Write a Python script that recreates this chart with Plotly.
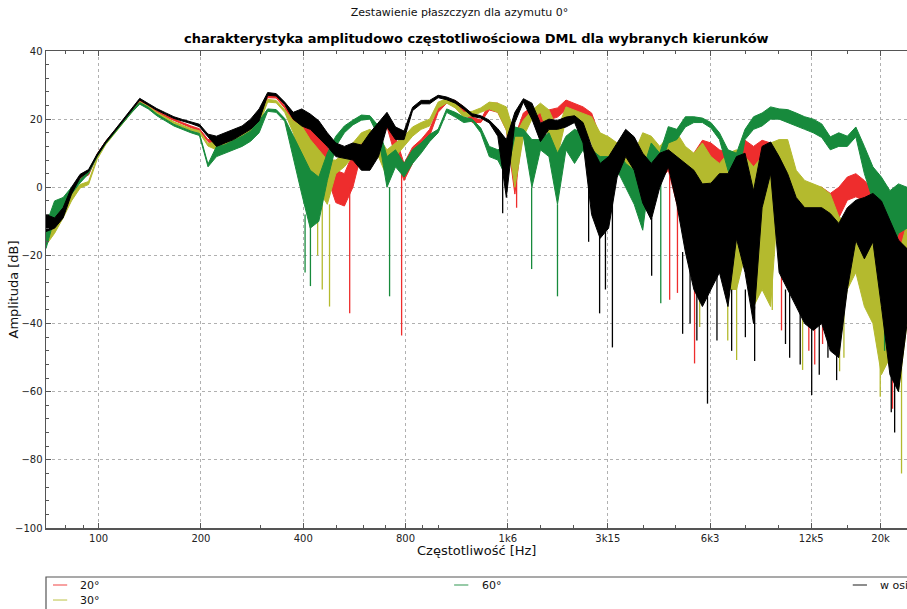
import math
import plotly.graph_objects as go

# ---------------- data ----------------
freq_hz = [70, 74.2, 78.6, 83.2, 88.2, 93.4, 99.0, 104.9, 111.1, 117.7, 124.7, 132.1,
           140, 148.3, 157.1, 166.5, 176.4, 186.9, 198.0, 209.8, 222.2, 235.5, 249.5, 264.3,
           280, 296.7, 314.3, 333.0, 352.8, 373.7, 396.0, 419.5, 444.5, 470.9, 498.9, 528.6,
           560, 593.3, 628.6, 666.0, 705.5, 747.5, 792.0, 839.1, 888.9, 941.8, 997.8, 1057.1,
           1120, 1186.6, 1257.2, 1331.9, 1411.1, 1495.0, 1583.9, 1678.1, 1777.9, 1883.6, 1995.6, 2114.3,
           2240, 2373.2, 2514.3, 2663.8, 2822.2, 2990.0, 3167.8, 3356.1, 3555.7, 3767.1, 3991.1, 4228.5,
           4480, 4746.4, 5028.6, 5327.6, 5644.4, 5980.0, 6335.6, 6712.3, 7111.4, 7534.2, 7982.2, 8456.9,
           8960, 9492.8, 10057, 10655, 11289, 11960, 12671, 13425, 14223, 15068, 15964, 16914,
           17920, 18986, 20114, 21310, 22577, 23920]

# "w osi" (on axis) - upper / lower envelope of the measured curve [dB]
axis_upper = [-8, -9, -6, 0, 3.8, 5.2, 9.8, 13.5, 16.6, 19.7, 22.9, 26.1,
              24.6, 23.1, 21.9, 20.7, 19.9, 19.2, 18.5, 15.6, 15, 16, 17, 18,
              20, 23, 27.8, 27.5, 25, 22, 23, 21.5, 19.5, 16, 13, 12,
              13, 12.4, 16, 19, 22, 17.7, 16.5, 23.5, 25.5, 25.5, 27, 26.5,
              25.5, 23.7, 21.6, 21, 19.7, 17.2, 14, 22, 26, 24.7, 18.8, 20,
              19.6, 20.6, 21, 19, 12, 7, 9, 13, 17, 14.8, 10, 7,
              10, 11, 9, 7, 5, 1, 1.2, 4, 4, 9, 10, -1,
              12, 13.3, 9, 4, -3, -6, -6, -6, -7.7, -10.6, -6, -3.8,
              -3, -1.8, -4, -10, -15.5, -18]
axis_lower = [-13, -12, -9, -2, 2.8, 4.6, 9.2, 13, 16.1, 19.2, 22.4, 25.6,
              24.1, 22.6, 21.4, 20.2, 19.4, 18.7, 17.8, 14.8, 12, 13, 14, 15.5,
              17, 19.5, 27, 26.8, 24.3, 20, 18, 17, 14.5, 12, 9, 8.5,
              8, 5, 5, 9, 17.7, 14, 14, 22.5, 24.5, 24.5, 26.3, 25.7,
              24.7, 22.9, 20.8, 20.3, 18.9, 15, -3, 19, 25, 20, 13.4, 17,
              17, 17.7, 19, 13, -8, -15, -12, 3, 9, 5, -4.6, -9.6,
              0, 6, -5, -19, -30, -35, -30, -25, -35, -15, -25, -40,
              -6, 4, -25, -30, -35, -40, -42, -40, -48, -50, -30, -15.6,
              -21, -16, -35, -55, -60, -40]

# 20 deg
deg20_upper = [-9, -9.5, -6, -0.5, 3.3, 4.3, 9.8, 13.5, 16.5, 19.6, 22.7, 25.6,
               24.1, 22.4, 21.2, 20, 19, 18, 17.2, 14, 14.2, 15.5, 16.5, 17.5,
               19.5, 22.5, 27, 26.8, 24, 20.5, 20, 19, 15.5, 12, 5, 4,
               10, 13.8, 14.8, 17.7, 20.6, 14.8, 7, 11.8, 14, 17, 23.3, 25.7,
               25.5, 23.6, 20.6, 19.7, 24.7, 24.7, 20.6, 14.8, 21.8, 23.6, 21.8, 22.7,
               23.3, 25.6, 24.7, 23.6, 21.8, 14.8, 11, 12, 12, 11, 10, 10,
               10, 12, 9, 9, 10, 13.8, 13, 11, 10, 10, 13.8, 12,
               13.8, 13, 10, 6, 1.2, 0, 0, 0, -1.8, 0, 3, 4,
               2, -0.8, -5, -8, -12.6, -10.6]
deg20_lower = [-13, -12, -8.5, -2, 2.5, 3.6, 9.2, 13, 16, 19.1, 22.2, 25.1,
               23.6, 21.9, 20.7, 19.5, 18.5, 17.5, 16.6, 13.4, 11.5, 12.5, 13.5, 15,
               16.5, 19, 26.3, 26.2, 23.3, 19, 15, 12, 7, 3, -4.5, -5.5,
               0, 10, 12, 14, 17.7, 9, 2, 7, 11.8, 15, 22, 24.7,
               24.5, 22, 19, 19, 22.7, 22, 16.8, -2, 17.7, 20.6, 19, 19.7,
               20.6, 22.7, 21.8, 20.6, 16.8, 7, 5, 9, 8.5, 5, 5, 6,
               2, 5, -5, -14.6, -10, 6, 4, 4, 3, -0.8, 4, 0,
               9, 6, 3, -1, -5.7, -9, -9, -10, -12.6, -9, -3.8, -2.8,
               -4, -8.7, -15, -30, -20, -15.5]

# 30 deg
deg30_upper = [-13, -11.5, -6.5, -2, 0.8, 1.7, 8.8, 13, 16.2, 19.3, 22.3, 25.1,
               23.8, 22, 20.5, 19.2, 18.2, 17.2, 16.6, 12.8, 13.5, 15, 16, 17,
               18.5, 21, 25.8, 25.5, 22.8, 19.5, 18, 14, 11, 8, 8, 10,
               13, 16, 17, 14.8, 11, 13, 15, 17.7, 19, 20, 25, 26,
               24.7, 22, 22.3, 23.3, 25, 24.7, 23.6, 15, 19.7, 22.6, 24.7, 22.7,
               17, 23.6, 22.6, 21.7, 20.7, 16, 14.8, 13, 11, 10, 16, 15,
               12, 15, 16, 12, 10, 13, 9, 7, 10, 11, 9, 6,
               9, 13, 14, 14, 5, 2, 1, 0, -2, -8.6, -10.6, -8.6,
               -10.6, -12.5, -15.5, -20, -20, -10.6]
deg30_lower = [-17, -13.5, -9, -4, -0.2, 0.8, 8.2, 12.5, 15.7, 18.8, 21.8, 24.6,
               23.3, 21.5, 20, 18.7, 17.7, 16.7, 16, 12.1, 11, 12, 13, 14.5,
               16, 18.5, 25, 24.8, 22, 16, 8, 3, -1, -5, 4, 6,
               9, 13, 14, 9, 3, 9, 12, 15, 17, 18, 23.3, 24.7,
               23.3, 20.6, 21, 22, 23, 22, 16.8, 0, 14.8, 20, 22, 14.8,
               9, 20, 19, 17.7, 13, 3, 5, 9, 7, 2, 10, 5,
               2, 9, 7, -1.8, -14, -20, -10.6, -15, -30, -30, -20, -35,
               -30, -35, 0, -0.8, -20, -25, -30, -30, -35, -45, -30, -25,
               -35, -40, -55, -50, -60, -40]

# 60 deg
deg60_upper = [-11, -4, -3, 0, 2.3, 4.8, 9.6, 13.3, 16.3, 19.3, 22.3, 24.9,
               23.5, 21.5, 20, 18.5, 17.5, 16.5, 15.8, 6.8, 12, 12.5, 13.8, 15,
               16.5, 19.5, 23, 22.8, 20.2, 15, 10, 5, 3, 10, 15, 18,
               19.7, 21.2, 21, 18, 9, 11, 7, 11, 13, 15.5, 17, 23,
               22, 20.6, 20, 17.4, 12, 11, 12, 17.7, 17, 14, 14, 16,
               10, 15, 17, 16, 11, 9, 9, 11, 7, 5, 5, 13,
               10, 17.8, 17, 20.7, 20.7, 20.3, 19, 16, 11, 10, 17, 20.7,
               21.8, 23.6, 23, 22.8, 21.8, 20.7, 20, 18.6, 14.8, 16, 15, 17.7,
               12, 6, 3, -1, 1, 0]
deg60_lower = [-18, -9, -6, -2, 1.3, 4, 9, 12.8, 15.8, 18.8, 21.8, 24.4,
               23, 21, 19.5, 18, 17, 16, 15.2, 6, 9, 10, 11, 12,
               13.5, 16, 22.3, 22, 19.4, 9, -2, -12, -10, 2, 12, 16,
               18.3, 19.7, 20, 15, 0, 6, 3, 7, 10, 13.4, 16, 22,
               20.6, 19, 19.4, 16, 9, 8, 3, 15, 15, 0, 11, 9,
               -5, 11, 7, 11, 5, 1, 3, 5, 0, -5, -12.6, 7,
               5, 13, 14, 17.7, 19, 19, 17.4, 14, 5, 0, 14, 17,
               18, 20, 20, 19, 18, 17, 16, 14.6, 11, 12, 12, 14.8,
               4, -3.8, -10.6, -20.6, -13.5, -12]

# narrow deep notches: frequency, top, bottom [dB]
deg20_notch_hz = [548, 779, 1698, 4790, 5050, 5670, 10220, 12300, 12800, 13500, 21690]
deg20_notch_top = [0, 5, 5, 5, 0, -10, -5, -8, -8, -10, -20]
deg20_notch_bot = [-37, -43.5, -6, -33, -31, -51.7, -42, -48, -52, -46, -65]

deg30_notch_hz = [441, 455, 478, 5870, 7100, 7540, 9600, 11790, 15150, 15600, 19950, 23050]
deg30_notch_top = [-1, -3, -5, -10, -20, -20, -20, -20, -30, -30, -35, -40]
deg30_notch_bot = [-20, -30, -35, -41, -45, -50.7, -36, -53.6, -54, -50, -61.5, -84]

deg60_notch_hz = [405, 420, 718, 1880, 2240, 4510, 20550, 21500]
deg60_notch_top = [-8, -10, 0, 0, -5, 5, -20, -20]
deg60_notch_bot = [-25, -29, -32, -24, -32, -34, -48, -40]

axis_notch_hz = [1545, 2766, 2980, 3100, 3250, 4240, 5230, 5500, 5760, 6190, 6600, 7290, 8000, 8520,
                 10500, 10800, 11600, 12540, 13200, 14000, 14850, 21500, 22000]
axis_notch_top = [10, 3, -9, -5, -3, -9, -19, -20, -25, -30, -25, -30, -30, -35,
                  -30, -30, -35, -40, -40, -40, -45, -50, -50]
axis_notch_bot = [-7.6, -16, -37, -30, -47, -26, -43, -40, -45, -63.5, -45, -48, -44, -51,
                  -46, -50, -52, -61, -55, -50, -56.6, -66, -72]

series_names = ["20°", "30°", "60°", "w osi"]
x_tick_vals = [100, 200, 400, 800, 1600, 3150, 6300, 12500, 20000]
x_tick_text = ["100", "200", "400", "800", "1k6", "3k15", "6k3", "12k5", "20k"]
x_minor_vals = [80, 90, 300, 500, 600, 700, 900, 1000, 2000, 2500, 4000, 5000, 8000, 10000, 16000]

# ---------------- styling ----------------
colors = ["#ee2d2d", "#b4ba2e", "#178a3c", "#000000"]
legend_colors = ["rgba(238,45,45,0.6)", "rgba(180,186,46,0.6)", "rgba(23,138,60,0.6)", "rgba(0,0,0,0.6)"]
FONT = "DejaVu Sans"

bands = [
    (deg20_upper, deg20_lower, deg20_notch_hz, deg20_notch_top, deg20_notch_bot),
    (deg30_upper, deg30_lower, deg30_notch_hz, deg30_notch_top, deg30_notch_bot),
    (deg60_upper, deg60_lower, deg60_notch_hz, deg60_notch_top, deg60_notch_bot),
    (axis_upper, axis_lower, axis_notch_hz, axis_notch_top, axis_notch_bot),
]

fig = go.Figure()
for name, col, (up, lo, nh, nt, nb) in zip(series_names, colors, bands):
    fig.add_trace(go.Scatter(
        x=freq_hz + freq_hz[::-1], y=up + lo[::-1],
        mode="lines", fill="toself", fillcolor=col,
        line=dict(color=col, width=1), name=name, hoverinfo="skip"))
    sx, sy = [], []
    for f, t, b in zip(nh, nt, nb):
        sx += [f, f, None]
        sy += [t, b, None]
    fig.add_trace(go.Scatter(x=sx, y=sy, mode="lines",
                             line=dict(color=col, width=1.3), name=name,
                             showlegend=False, hoverinfo="skip"))

grid = dict(showgrid=True, gridcolor="#b0b0b0", griddash="dot", gridwidth=1)
fig.update_xaxes(type="log", range=[math.log10(70), math.log10(23920)],
                 tickmode="array", tickvals=x_tick_vals, ticktext=x_tick_text,
                 ticks="inside", ticklen=5, tickcolor="#555",
                 showline=True, linecolor="#555", linewidth=1.5, mirror="ticks",
                 tickfont=dict(family=FONT, size=10, color="#222"),
                 minor=dict(tickmode="array", tickvals=x_minor_vals, ticks="inside",
                            ticklen=3, tickcolor="#555", showgrid=False),
                 zeroline=False, automargin=False, **grid)
fig.update_yaxes(range=[-100, 40], tickmode="linear", tick0=-100, dtick=20,
                 ticks="inside", ticklen=5, tickcolor="#555",
                 showline=True, linecolor="#555", linewidth=1.5, mirror=False,
                 tickfont=dict(family=FONT, size=10, color="#222"),
                 minor=dict(dtick=4, ticks="inside", ticklen=3, tickcolor="#555", showgrid=False),
                 zeroline=False, automargin=False, **grid)

annotations = [
    dict(text="<b>charakterystyka amplitudowo częstotliwościowa DML dla wybranych kierunków</b>",
         xref="paper", yref="paper", x=0.5, y=1.0252, showarrow=False,
         xanchor="center", yanchor="middle",
         font=dict(family=FONT, size=13, color="#000")),
    dict(text="Amplituda [dB]", xref="paper", yref="paper", x=-0.0372, y=0.5,
         showarrow=False, textangle=-90, xanchor="center", yanchor="middle",
         font=dict(family=FONT, size=13, color="#111")),
    dict(text="Częstotliwość [Hz]", xref="paper", yref="paper", x=0.5, y=-0.0472,
         showarrow=False, xanchor="center", yanchor="middle",
         font=dict(family=FONT, size=13, color="#111")),
]

# custom legend (matplotlib-like, 3 columns)
shapes = [dict(type="rect", xref="paper", yref="paper", x0=0, x1=1.02, y0=-0.2, y1=-0.1027,
               line=dict(color="#555", width=1.2), fillcolor="rgba(0,0,0,0)")]
legend_pos = [(0.0081, -0.1195), (0.0081, -0.151), (0.474, -0.1195), (0.937, -0.1195)]
for name, lc, (lx, ly) in zip(series_names, legend_colors, legend_pos):
    shapes.append(dict(type="line", xref="paper", yref="paper", x0=lx, x1=lx + 0.0165,
                       y0=ly, y1=ly, line=dict(color=lc, width=1.5)))
    annotations.append(dict(text=name, xref="paper", yref="paper", x=lx + 0.0295, y=ly,
                            showarrow=False, xanchor="left", yanchor="middle",
                            font=dict(family=FONT, size=11, color="#111")))

fig.update_layout(
    width=907, height=609,
    margin=dict(l=46, r=0, t=51, b=81, autoexpand=False),
    plot_bgcolor="white", paper_bgcolor="white",
    showlegend=False,
    title=dict(text="Zestawienie płaszczyzn dla azymutu 0°", x=0.5066, xref="container",
               y=1 - 12 / 609, yref="container", xanchor="center", yanchor="middle",
               font=dict(family=FONT, size=11, color="#111")),
    annotations=annotations, shapes=shapes,
    font=dict(family=FONT),
)

fig.write_html("out.html",
               config={"displayModeBar": False, "staticPlot": True},
               post_script="document.body.style.margin='0px';document.body.style.overflow='hidden';")
